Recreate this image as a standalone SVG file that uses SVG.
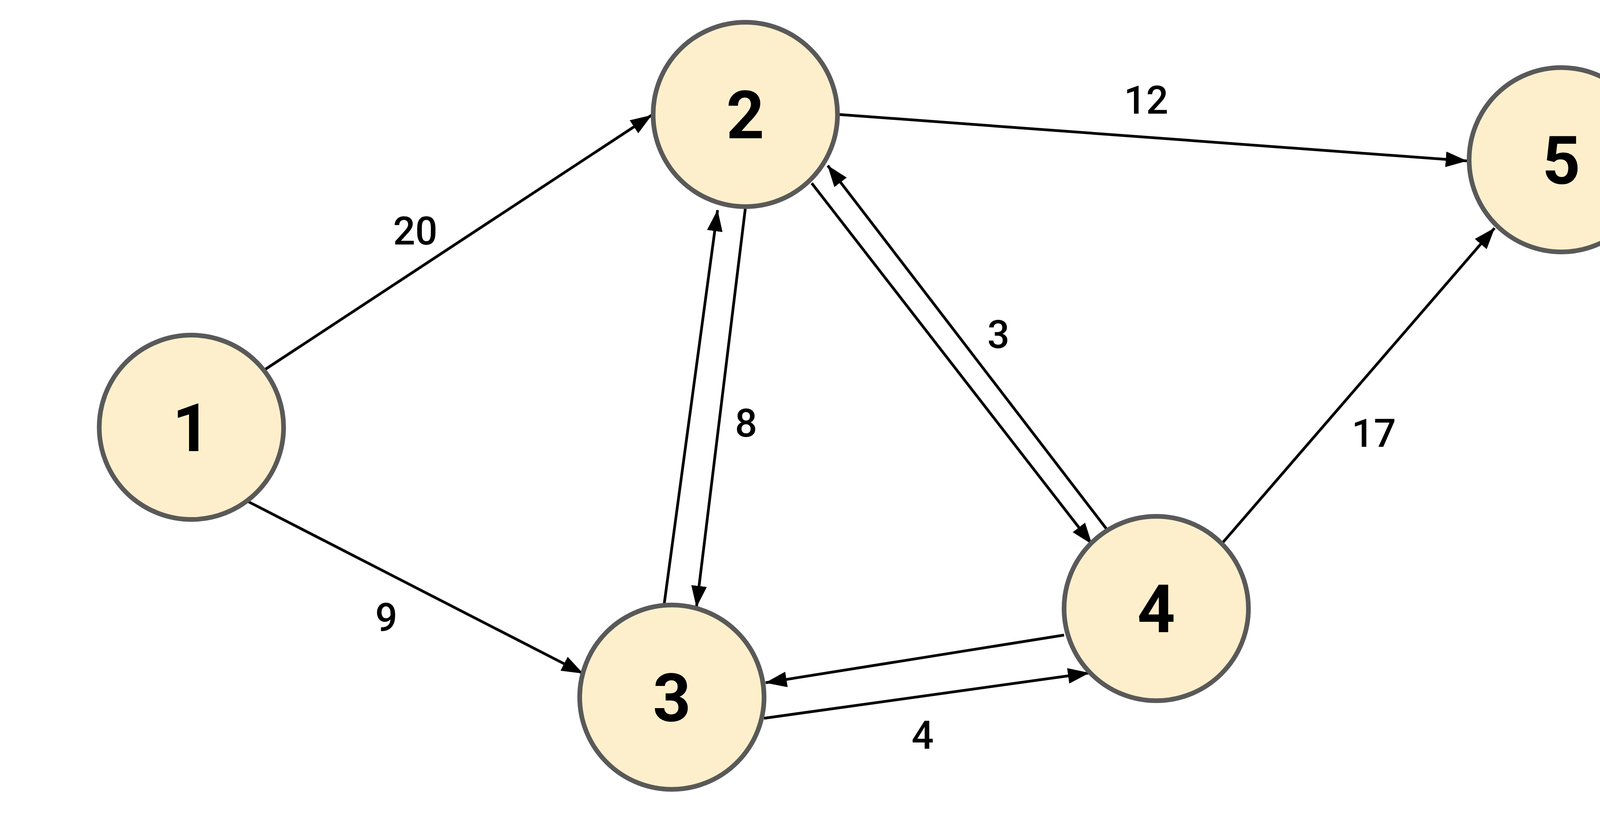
<svg xmlns="http://www.w3.org/2000/svg" width="4458" height="2143" viewBox="0 0 4458 2143">
<style>
.n{fill:#fdefcb;stroke:#595959;stroke-width:12}
.nt{font-family:Roboto,"Liberation Sans",sans-serif;font-weight:bold;font-size:170px;text-anchor:middle;fill:#000}
.e{stroke:#000;stroke-width:7;fill:none;marker-end:url(#a)}
.l{font-family:Roboto,"Liberation Sans",sans-serif;font-weight:500;font-size:100px;text-anchor:middle;fill:#000}
</style>
<defs><marker id="a" markerUnits="userSpaceOnUse" markerWidth="56" markerHeight="40" refX="54" refY="20" orient="auto"><path d="M0,0 L55,20 L0,40 Z" fill="#000"/></marker></defs>
<rect width="4458" height="2143" fill="#fff"/>
<g id="connectors">
<line class="e" x1="677" y1="947" x2="1668" y2="295"/>
<line class="e" x1="631" y1="1282" x2="1492" y2="1724"/>
<line class="e" x1="2146" y1="293" x2="3755" y2="412"/>
<line class="e" x1="1908" y1="534" x2="1783" y2="1554"/>
<line class="e" x1="1700" y1="1549" x2="1837" y2="538"/>
<line class="e" x1="2078" y1="469" x2="2795" y2="1393"/>
<line class="e" x1="2834" y1="1356" x2="2119" y2="424"/>
<line class="e" x1="2724" y1="1626" x2="1960" y2="1748"/>
<line class="e" x1="1956" y1="1839" x2="2788" y2="1723"/>
<line class="e" x1="3127" y1="1393" x2="3826" y2="584"/>
<text class="l" x="1063" y="626">20</text>
<text class="l" x="989" y="1616">9</text>
<text class="l" x="2934" y="291">12</text>
<text class="l" x="1910" y="1118">8</text>
<text class="l" x="2556" y="891">3</text>
<text class="l" x="3517" y="1144">17</text>
<text class="l" x="2362" y="1917">4</text>
</g>
<g id="n1"><circle class="n" cx="490" cy="1094" r="236"/><text class="nt" x="490" y="1155">1</text></g>
<g id="n2"><circle class="n" cx="1908" cy="293" r="236"/><text class="nt" x="1908" y="354">2</text></g>
<g id="n3"><circle class="n" cx="1720" cy="1785" r="236"/><text class="nt" x="1720" y="1846">3</text></g>
<g id="n4"><circle class="n" cx="2960" cy="1558" r="236"/><text class="nt" x="2960" y="1619">4</text></g>
<g id="n5"><circle class="n" cx="3997" cy="409" r="236"/><text class="nt" x="3997" y="470">5</text></g>
</svg>
